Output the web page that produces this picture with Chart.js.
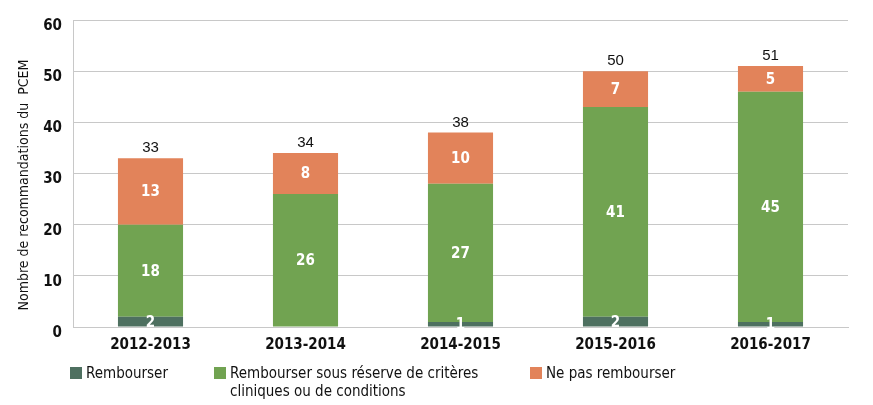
<!DOCTYPE html>
<html>
<head>
<meta charset="utf-8">
<script src="https://cdn.jsdelivr.net/npm/chart.js@4"></script>
<style>
  html, body { margin: 0; padding: 0; background: #fff; }
  #wrap { position: relative; width: 873px; height: 405px; }
  #legend { position: absolute; top: 364px; left: 0; width: 873px; font: 15px "Liberation Sans Narrow", "DejaVu Sans Condensed", sans-serif; color: #111; }
  .item { position: absolute; top: 0; line-height: 18px; }
  .sw { position: absolute; top: 3px; width: 12px; height: 12px; }
  .txt { position: absolute; left: 16px; white-space: nowrap; }
</style>
</head>
<body>
<div id="wrap">
  <canvas id="chart" width="873" height="405"></canvas>
  <div id="legend"></div>
</div>
<script>
// --- Data ---
const years = ['2012-2013', '2013-2014', '2014-2015', '2015-2016', '2016-2017'];
const rembourser = [2, 0, 1, 2, 1];
const sousReserve = [18, 26, 27, 41, 45];
const nePas = [13, 8, 10, 7, 5];
const seriesNames = ['Rembourser', 'Rembourser sous réserve de critères\ncliniques ou de conditions', 'Ne pas rembourser'];
const yTicks = [0, 10, 20, 30, 40, 50, 60];
const yTitle = 'Nombre de recommandations du  PCEM';

const colors = ['#4e7060', '#71a351', '#e2835a'];
const FONT = '"Liberation Sans Narrow", "DejaVu Sans Condensed", sans-serif';

// draws the white values inside segments, the totals on top and the y title
const valueLabels = {
    id: 'valueLabels',
    afterDatasetsDraw(chart) {
        const ctx = chart.ctx;
        ctx.save();
        ctx.textAlign = 'center';
        ctx.textBaseline = 'middle';
        chart.data.datasets.forEach((ds, di) => {
            const meta = chart.getDatasetMeta(di);
            meta.data.forEach((bar, i) => {
                const v = ds.data[i];
                if (!v) return;
                ctx.fillStyle = '#fff';
                ctx.font = 'bold 15px ' + FONT;
                const y = (bar.y + bar.base) / 2;
                ctx.fillText(v, bar.x, y + 1);
            });
        });
        // totals
        const lastMeta = chart.getDatasetMeta(chart.data.datasets.length - 1);
        lastMeta.data.forEach((bar, i) => {
            const total = rembourser[i] + sousReserve[i] + nePas[i];
            ctx.fillStyle = '#111';
            ctx.font = '15px "Liberation Sans", Arial, sans-serif';
            ctx.fillText(total, bar.x, bar.y - 10);
        });
        // y axis title, centred a bit below the plot centre like the reference
        ctx.translate(24, 185);
        ctx.rotate(-Math.PI / 2);
        ctx.fillStyle = '#111';
        ctx.font = '14px ' + FONT;
        ctx.fillText(yTitle, 0, 0);
        ctx.restore();
    }
};

new Chart(document.getElementById('chart'), {
    type: 'bar',
    data: {
        labels: years,
        datasets: [
            { label: seriesNames[0], data: rembourser, backgroundColor: colors[0] },
            { label: seriesNames[1], data: sousReserve, backgroundColor: colors[1] },
            { label: seriesNames[2], data: nePas, backgroundColor: colors[2] }
        ]
    },
    options: {
        responsive: false,
        animation: false,
        devicePixelRatio: 1,
        layout: { padding: { left: 0, right: 25, top: 20, bottom: 48 } },
        datasets: { bar: { categoryPercentage: 1, barPercentage: 0.42 } },
        plugins: { legend: { display: false }, tooltip: { enabled: false } },
        scales: {
            x: {
                stacked: true,
                grid: { display: false },
                border: { color: '#c8c8c8' },
                ticks: { color: '#111', font: { family: FONT, size: 15, weight: 'bold' }, padding: 1 },
                afterFit: s => { s.height = 30; }
            },
            y: {
                stacked: true,
                min: 0,
                max: 60,
                afterBuildTicks: s => { s.ticks = yTicks.map(v => ({ value: v })); },
                grid: { color: '#c8c8c8', drawTicks: false },
                border: { color: '#c8c8c8' },
                ticks: { color: '#111', font: { family: FONT, size: 15, weight: 'bold' }, padding: 11, labelOffset: 6 },
                afterFit: s => { s.width = 73; }
            }
        }
    },
    plugins: [valueLabels]
});

// HTML legend (second entry wraps on two lines, as in the reference)
const legendPos = [70, 214, 530];
const legend = document.getElementById('legend');
seriesNames.forEach((name, i) => {
    const item = document.createElement('div');
    item.className = 'item';
    item.style.left = legendPos[i] + 'px';
    const sw = document.createElement('div');
    sw.className = 'sw';
    sw.style.background = colors[i];
    const txt = document.createElement('div');
    txt.className = 'txt';
    txt.innerHTML = name.split('\n').join('<br>');
    item.appendChild(sw);
    item.appendChild(txt);
    legend.appendChild(item);
});
</script>
</body>
</html>
